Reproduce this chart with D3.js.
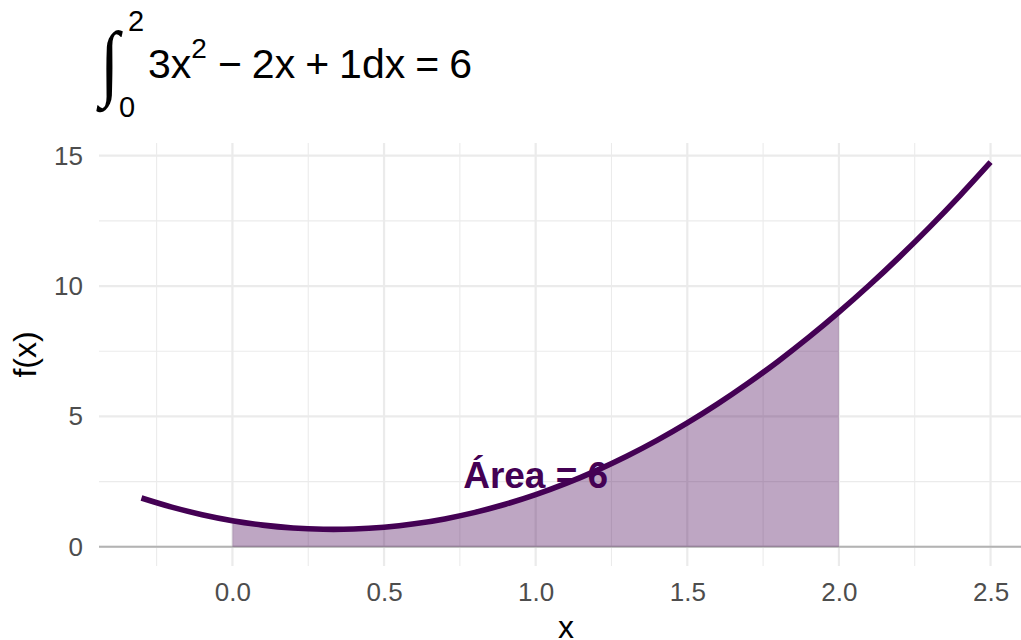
<!DOCTYPE html>
<html>
<head>
<meta charset="utf-8">
<script src="https://cdn.jsdelivr.net/npm/d3@7"></script>
<style>
  body { margin: 0; background: #ffffff; }
  svg { display: block; font-family: "Liberation Sans", Arial, Helvetica, sans-serif; }
</style>
</head>
<body>
<svg id="chart" width="1021" height="640"></svg>
<script>
// f(x) = 3x^2 - 2x + 1 sampled on [-0.3, 2.5]
const xValues = [-0.3, -0.2, -0.1, 0.0, 0.1, 0.2, 0.3, 0.4, 0.5, 0.6, 0.7, 0.8, 0.9, 1.0,
                 1.1, 1.2, 1.3, 1.4, 1.5, 1.6, 1.7, 1.8, 1.9, 2.0, 2.1, 2.2, 2.3, 2.4, 2.5];
const fValues = [1.87, 1.52, 1.23, 1.00, 0.83, 0.72, 0.67, 0.68, 0.75, 0.88, 1.07, 1.32, 1.63, 2.00,
                 2.43, 2.92, 3.47, 4.08, 4.75, 5.48, 6.27, 7.12, 8.03, 9.00,
                 10.03, 11.12, 12.27, 13.48, 14.75];

// integration limits and the annotated result
const lowerLimit = 0;
const upperLimit = 2;
const areaValue = 6;
const labelPos = [1.0, 2.5];

const xTicks = [0, 0.5, 1, 1.5, 2, 2.5];
const xMinorTicks = [-0.25, 0.25, 0.75, 1.25, 1.75, 2.25];
const yTicks = [0, 5, 10, 15];
const yMinorTicks = [2.5, 7.5, 12.5];

const ink = "#440154";

const svg = d3.select("#chart");
const panel = { left: 99, right: 1033, top: 143, bottom: 566 };

const x = d3.scaleLinear().domain([-0.44, 2.64]).range([panel.left, panel.right]);
const y = d3.scaleLinear().domain([-0.7375, 15.4875]).range([panel.bottom, panel.top]);

const pts = xValues.map((v, i) => ({ x: v, y: fValues[i] }));
const shaded = pts.filter(p => p.x >= lowerLimit - 1e-9 && p.x <= upperLimit + 1e-9);

// grid: minor first, then major
const grid = svg.append("g").attr("stroke", "#ebebeb").attr("fill", "none");
grid.selectAll(".vmin").data(xMinorTicks).join("line")
  .attr("x1", d => x(d)).attr("x2", d => x(d))
  .attr("y1", panel.top).attr("y2", panel.bottom).attr("stroke-width", 1.1);
grid.selectAll(".hmin").data(yMinorTicks).join("line")
  .attr("y1", d => y(d)).attr("y2", d => y(d))
  .attr("x1", panel.left).attr("x2", panel.right).attr("stroke-width", 1.1);
grid.selectAll(".vmaj").data(xTicks).join("line")
  .attr("x1", d => x(d)).attr("x2", d => x(d))
  .attr("y1", panel.top).attr("y2", panel.bottom).attr("stroke-width", 2.2);
grid.selectAll(".hmaj").data(yTicks).join("line")
  .attr("y1", d => y(d)).attr("y2", d => y(d))
  .attr("x1", panel.left).attr("x2", panel.right).attr("stroke-width", 2.2);

// baseline at f(x) = 0
svg.append("line")
  .attr("x1", panel.left).attr("x2", panel.right)
  .attr("y1", y(0)).attr("y2", y(0))
  .attr("stroke", "#b3b3b3").attr("stroke-width", 2);

// shaded region under the curve
svg.append("path")
  .datum(shaded)
  .attr("d", d3.area().x(d => x(d.x)).y0(y(0)).y1(d => y(d.y)).curve(d3.curveCatmullRom))
  .attr("fill", ink).attr("fill-opacity", 0.35);

// the curve itself
svg.append("path")
  .datum(pts)
  .attr("d", d3.line().x(d => x(d.x)).y(d => y(d.y)).curve(d3.curveCatmullRom))
  .attr("fill", "none").attr("stroke", ink).attr("stroke-width", 5.6)
  .attr("stroke-linecap", "butt");

// area annotation
svg.append("text")
  .attr("x", x(labelPos[0])).attr("y", y(labelPos[1]))
  .attr("dy", "0.17em")
  .attr("text-anchor", "middle")
  .attr("font-weight", "bold").attr("font-size", 37)
  .attr("fill", ink)
  .text(`Área = ${areaValue}`);

// axes
const xAxis = svg.append("g")
  .attr("transform", `translate(0,${panel.bottom})`)
  .call(d3.axisBottom(x).tickValues(xTicks).tickFormat(d3.format(".1f")).tickSize(0).tickPadding(17));
const yAxis = svg.append("g")
  .attr("transform", `translate(${panel.left},0)`)
  .call(d3.axisLeft(y).tickValues(yTicks).tickFormat(d3.format("d")).tickSize(0).tickPadding(16));
[xAxis, yAxis].forEach(g => {
  g.select(".domain").remove();
  g.selectAll("text").attr("font-size", 26).attr("fill", "#4d4d4d")
    .attr("font-family", "\"Liberation Sans\", Arial, sans-serif");
});

// axis titles
svg.append("text")
  .attr("x", (panel.left + panel.right) / 2).attr("y", 638)
  .attr("text-anchor", "middle").attr("font-size", 32).attr("fill", "#000")
  .text("x");
svg.append("text")
  .attr("transform", `translate(36,${(panel.top + panel.bottom) / 2}) rotate(-90)`)
  .attr("text-anchor", "middle").attr("font-size", 32).attr("fill", "#000")
  .text("f(x)");

// title: definite integral expression
const title = svg.append("g");
title.append("text")
  .attr("transform", "translate(100,90) scale(1,1.2)")
  .attr("font-size", 70).attr("fill", "#000")
  .attr("font-family", "\"Liberation Serif\", serif")
  .text("∫");
title.append("text").attr("x", 128).attr("y", 31).attr("font-size", 29).text(upperLimit);
title.append("text").attr("x", 119).attr("y", 117).attr("font-size", 29).text(lowerLimit);

const mainSize = 41, gap = 10;
const tokens = [
  { t: "3x" }, { t: "2", sup: true }, { t: "−", op: true }, { t: "2x" },
  { t: "+", op: true }, { t: "1dx" }, { t: "=", op: true }, { t: String(areaValue) }
];
let cx = 148;
tokens.forEach(tk => {
  if (tk.op) cx += gap;
  const el = title.append("text")
    .attr("x", cx)
    .attr("y", tk.sup ? 58 : 78)
    .attr("font-size", tk.sup ? 28 : mainSize)
    .attr("fill", "#000")
    .text(tk.t);
  cx += el.node().getComputedTextLength();
  if (tk.op) cx += gap;
  if (tk.sup) cx += 1;
});
</script>
</body>
</html>
